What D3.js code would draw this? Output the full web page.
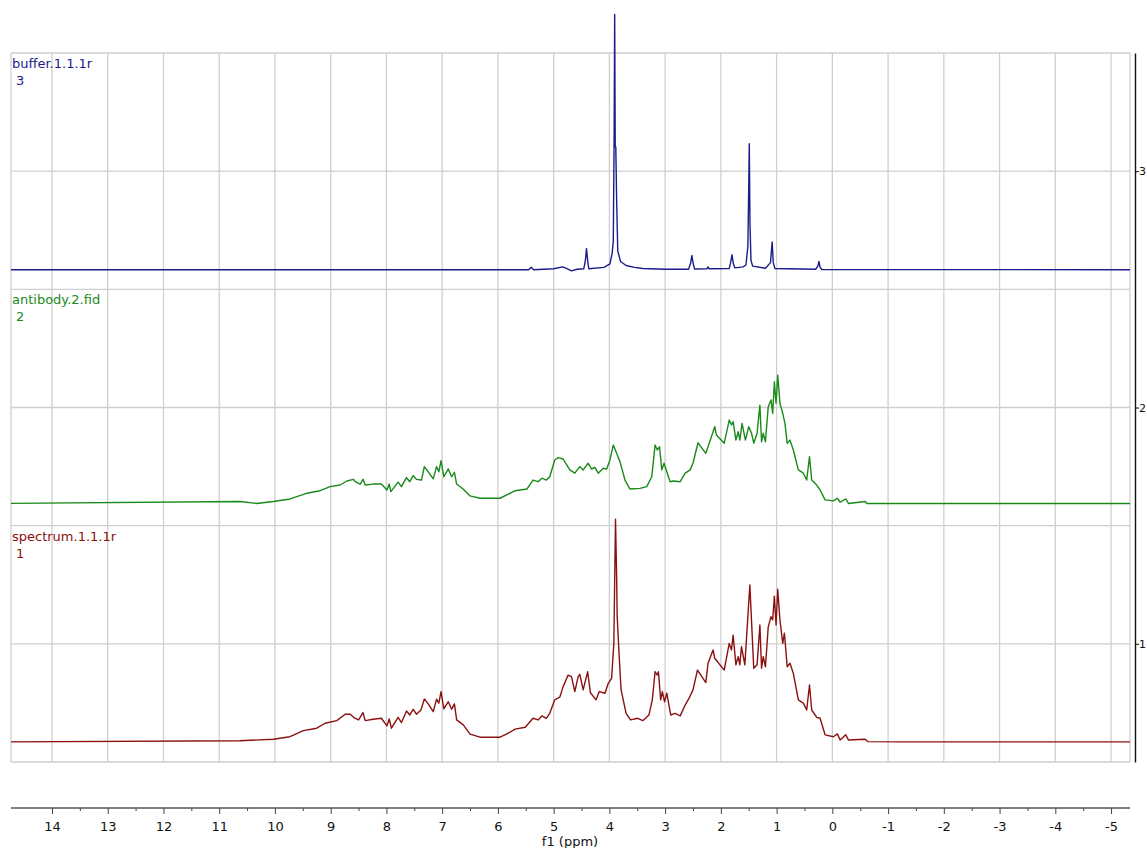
<!DOCTYPE html>
<html>
<head>
<meta charset="utf-8">
<script src="https://cdn.jsdelivr.net/npm/d3@7"></script>
<style>
  body { margin: 0; background: #fff; }
  svg { display: block; font-family: "DejaVu Sans", sans-serif; }
</style>
</head>
<body>
<svg id="chart"></svg>
<script>
// ppm ticks on the bottom axis and stack ticks on the right axis
const ppmTicks = [14, 13, 12, 11, 10, 9, 8, 7, 6, 5, 4, 3, 2, 1, 0, -1, -2, -3, -4, -5];
const stackTicks = [1, 2, 3];

// spectrum names, stack numbers and vertical offsets (in right-axis units)
const spectrumNames = ['buffer.1.1.1r', 'antibody.2.fid', 'spectrum.1.1.1r'];
const spectrumNumbers = ['3', '2', '1'];
const stackOffsets = [2.583, 1.594, 0.585];

// [ppm, intensity]
const bufferData = [
  [14.8, 0], [6.7, 0], [5.45, 0], [5.40, 0.01], [5.36, 0], [5.0, 0.004], [4.84, 0.012],
  [4.76, 0.005], [4.68, -0.005], [4.58, 0.002], [4.46, 0.004], [4.43, 0.04], [4.41, 0.089],
  [4.39, 0.04], [4.37, 0.004], [4.10, 0.01], [4.05, 0.016], [3.99, 0.025], [3.95, 0.07],
  [3.93, 0.12], [3.915, 0.55], [3.905, 1.08], [3.895, 0.52], [3.885, 0.52], [3.87, 0.3],
  [3.85, 0.08], [3.80, 0.035], [3.70, 0.018], [3.55, 0.01], [3.40, 0.005], [3.0, 0.002],
  [2.58, 0.002], [2.545, 0.025], [2.52, 0.06], [2.495, 0.025], [2.47, 0.003], [2.25, 0.004],
  [2.23, 0.012], [2.21, 0.004], [1.85, 0.005], [1.825, 0.03], [1.80, 0.063], [1.775, 0.025],
  [1.75, 0.008], [1.60, 0.012], [1.55, 0.02], [1.515, 0.1], [1.50, 0.35], [1.49, 0.533],
  [1.478, 0.2], [1.46, 0.04], [1.43, 0.015], [1.20, 0.006], [1.11, 0.03], [1.08, 0.117],
  [1.06, 0.03], [1.03, 0.005], [0.30, 0.002], [0.26, 0.015], [0.24, 0.035], [0.22, 0.01],
  [0.19, 0.001], [-5.4, 0]
];

const antibodyData = [
  [14.8, 0], [10.63, 0.008], [10.33, 0], [10.03, 0.008], [9.73, 0.019], [9.43, 0.043],
  [9.19, 0.054], [9.01, 0.071], [8.83, 0.078], [8.71, 0.095], [8.59, 0.102], [8.56, 0.092],
  [8.47, 0.082], [8.42, 0.102], [8.38, 0.078], [8.24, 0.082], [8.09, 0.082], [7.99, 0.057],
  [7.95, 0.082], [7.92, 0.050], [7.79, 0.090], [7.73, 0.071], [7.64, 0.109], [7.58, 0.092],
  [7.52, 0.118], [7.46, 0.102], [7.37, 0.099], [7.32, 0.156], [7.25, 0.134], [7.16, 0.104],
  [7.10, 0.156], [7.06, 0.134], [7.02, 0.181], [6.97, 0.113], [6.89, 0.146], [6.83, 0.113],
  [6.78, 0.132], [6.74, 0.082], [6.62, 0.060], [6.50, 0.032], [6.32, 0.022], [5.96, 0.022],
  [5.84, 0.036], [5.69, 0.054], [5.48, 0.061], [5.37, 0.099], [5.28, 0.092], [5.21, 0.107],
  [5.13, 0.099], [5.07, 0.113], [4.98, 0.184], [4.92, 0.194], [4.83, 0.188], [4.71, 0.142],
  [4.62, 0.128], [4.53, 0.156], [4.47, 0.142], [4.38, 0.170], [4.32, 0.145], [4.26, 0.153],
  [4.20, 0.128], [4.11, 0.149], [4.05, 0.145], [3.99, 0.184], [3.93, 0.247], [3.87, 0.212],
  [3.81, 0.177], [3.72, 0.099], [3.63, 0.061], [3.45, 0.064], [3.33, 0.071], [3.24, 0.113],
  [3.18, 0.247], [3.14, 0.226], [3.10, 0.240], [3.06, 0.142], [3.02, 0.170], [2.97, 0.134],
  [2.91, 0.092], [2.85, 0.095], [2.73, 0.092], [2.64, 0.128], [2.55, 0.142], [2.50, 0.170],
  [2.41, 0.257], [2.38, 0.247], [2.27, 0.212], [2.17, 0.282], [2.11, 0.325], [2.08, 0.290],
  [1.94, 0.255], [1.85, 0.353], [1.81, 0.332], [1.78, 0.346], [1.73, 0.268], [1.69, 0.304],
  [1.66, 0.268], [1.62, 0.339], [1.56, 0.268], [1.50, 0.325], [1.45, 0.297], [1.41, 0.255],
  [1.35, 0.297], [1.30, 0.416], [1.27, 0.261], [1.24, 0.297], [1.20, 0.261], [1.15, 0.409],
  [1.10, 0.438], [1.07, 0.381], [1.04, 0.515], [1.01, 0.424], [0.98, 0.543], [0.94, 0.424],
  [0.89, 0.381], [0.85, 0.339], [0.81, 0.255], [0.76, 0.268], [0.70, 0.226], [0.61, 0.142],
  [0.52, 0.128], [0.46, 0.099], [0.41, 0.198], [0.37, 0.099], [0.28, 0.078], [0.22, 0.057],
  [0.13, 0.015], [-0.02, 0.011], [-0.09, 0.022], [-0.14, 0.005], [-0.24, 0.019], [-0.29, 0],
  [-0.59, 0.008], [-0.62, 0], [-1.21, 0], [-5.4, 0]
];

const spectrumData = [
  [14.8, 0], [10.63, 0.005], [10.03, 0.011], [9.73, 0.022], [9.49, 0.048], [9.25, 0.058],
  [9.10, 0.079], [8.89, 0.090], [8.74, 0.117], [8.65, 0.117], [8.59, 0.104], [8.50, 0.093],
  [8.42, 0.124], [8.38, 0.090], [8.24, 0.096], [8.09, 0.100], [7.99, 0.068], [7.95, 0.097],
  [7.91, 0.058], [7.79, 0.104], [7.73, 0.082], [7.64, 0.131], [7.58, 0.114], [7.52, 0.138],
  [7.46, 0.117], [7.38, 0.135], [7.32, 0.182], [7.25, 0.161], [7.16, 0.128], [7.10, 0.181],
  [7.06, 0.164], [7.02, 0.213], [6.97, 0.140], [6.89, 0.170], [6.83, 0.138], [6.78, 0.161],
  [6.74, 0.093], [6.62, 0.072], [6.50, 0.033], [6.32, 0.020], [5.96, 0.020], [5.84, 0.034],
  [5.69, 0.054], [5.51, 0.062], [5.37, 0.100], [5.28, 0.093], [5.21, 0.110], [5.13, 0.100],
  [5.07, 0.121], [4.98, 0.178], [4.89, 0.189], [4.83, 0.234], [4.74, 0.283], [4.68, 0.276],
  [4.62, 0.213], [4.56, 0.276], [4.53, 0.286], [4.47, 0.220], [4.39, 0.297], [4.34, 0.208],
  [4.24, 0.178], [4.18, 0.213], [4.08, 0.206], [4.02, 0.248], [3.96, 0.269], [3.92, 0.417],
  [3.89, 0.942], [3.87, 0.699], [3.86, 0.530], [3.83, 0.389], [3.79, 0.220], [3.70, 0.121],
  [3.62, 0.093], [3.49, 0.100], [3.40, 0.090], [3.29, 0.114], [3.23, 0.178], [3.18, 0.297],
  [3.14, 0.283], [3.12, 0.297], [3.08, 0.178], [3.05, 0.213], [3.01, 0.170], [2.97, 0.206],
  [2.90, 0.114], [2.82, 0.121], [2.73, 0.110], [2.64, 0.156], [2.57, 0.185], [2.50, 0.220],
  [2.42, 0.304], [2.38, 0.290], [2.27, 0.251], [2.23, 0.333], [2.14, 0.389], [2.11, 0.354],
  [1.94, 0.304], [1.85, 0.417], [1.81, 0.389], [1.78, 0.452], [1.73, 0.326], [1.69, 0.361],
  [1.66, 0.326], [1.63, 0.403], [1.57, 0.326], [1.48, 0.664], [1.41, 0.312], [1.35, 0.326],
  [1.30, 0.495], [1.27, 0.312], [1.24, 0.361], [1.20, 0.318], [1.15, 0.487], [1.10, 0.530],
  [1.07, 0.516], [1.04, 0.617], [1.01, 0.495], [0.98, 0.646], [0.94, 0.516], [0.89, 0.417],
  [0.86, 0.460], [0.81, 0.318], [0.76, 0.333], [0.70, 0.290], [0.61, 0.178], [0.52, 0.164],
  [0.46, 0.135], [0.41, 0.241], [0.37, 0.135], [0.28, 0.104], [0.22, 0.100], [0.13, 0.030],
  [-0.02, 0.022], [-0.09, 0.034], [-0.14, 0.008], [-0.24, 0.030], [-0.29, 0.008],
  [-0.59, 0.011], [-0.64, 0.001], [-1.21, 0], [-5.4, 0]
];

const seriesData = [bufferData, antibodyData, spectrumData];
const seriesColors = ['#1b1b8a', '#198a19', '#8b1010'];

const width = 1147;
const height = 848;
const plot = { left: 11, right: 1130, top: 53, bottom: 762 };

const svg = d3.select('#chart')
  .attr('width', width)
  .attr('height', height);

const x = d3.scaleLinear().domain([14.735, -5.34]).range([plot.left, plot.right]);
const y = d3.scaleLinear().domain([0.5, 3.5]).range([plot.bottom, plot.top]);

// clip left/right only: the tallest peak pokes out above the frame
svg.append('defs').append('clipPath').attr('id', 'plotClip')
  .append('rect')
  .attr('x', plot.left).attr('y', 0)
  .attr('width', plot.right - plot.left).attr('height', plot.bottom);

// grid
const grid = svg.append('g').attr('stroke', '#cfcfcf').attr('stroke-width', 1.3);
grid.selectAll('line.v')
  .data(ppmTicks)
  .enter().append('line')
  .attr('class', 'v')
  .attr('x1', d => x(d)).attr('x2', d => x(d))
  .attr('y1', plot.top).attr('y2', plot.bottom);
grid.selectAll('line.h')
  .data(d3.range(0.5, 3.51, 0.5))
  .enter().append('line')
  .attr('class', 'h')
  .attr('x1', plot.left).attr('x2', plot.right)
  .attr('y1', d => y(d)).attr('y2', d => y(d));
grid.append('line')
  .attr('x1', plot.left).attr('x2', plot.left)
  .attr('y1', plot.top).attr('y2', plot.bottom);
grid.append('line')
  .attr('x1', plot.right).attr('x2', plot.right)
  .attr('y1', plot.top).attr('y2', plot.bottom);

// spectra
const traces = svg.append('g').attr('clip-path', 'url(#plotClip)');
seriesData.forEach((data, i) => {
  const line = d3.line()
    .x(d => x(d[0]))
    .y(d => y(d[1] + stackOffsets[i]));
  traces.append('path')
    .datum(data)
    .attr('d', line)
    .attr('fill', 'none')
    .attr('stroke', seriesColors[i])
    .attr('stroke-width', 1.4)
    .attr('stroke-linejoin', 'round');
});

// spectrum names in the top-left corner of each band
spectrumNames.forEach((name, i) => {
  const top = y(Math.round(stackOffsets[i]) + 0.5);
  const label = svg.append('text')
    .attr('fill', seriesColors[i])
    .attr('font-size', 13)
    .attr('x', plot.left + 1)
    .attr('y', top + 15);
  label.append('tspan').text(name);
  label.append('tspan')
    .attr('x', plot.left + 5)
    .attr('dy', 17)
    .text(spectrumNumbers[i]);
});

// bottom ppm axis
const axisY = 808;
svg.append('g')
  .attr('transform', `translate(0,${axisY})`)
  .call(d3.axisBottom(x).tickValues(ppmTicks.slice(0, -1).map(d => d - 0.5)).tickSize(3).tickFormat(''))
  .call(g => g.select('.domain').remove())
  .call(g => g.selectAll('line').attr('stroke', '#444'));
svg.append('g')
  .attr('transform', `translate(0,${axisY})`)
  .call(d3.axisBottom(x).tickValues(ppmTicks).tickSize(6).tickSizeOuter(0).tickPadding(8).tickFormat(d => String(d)))
  .call(g => g.select('.domain').attr('stroke', '#555').attr('stroke-width', 1.6)
    .attr('d', `M${plot.left},0H${plot.right}`))
  .call(g => g.selectAll('line').attr('stroke', '#444'))
  .call(g => g.selectAll('text').attr('font-size', 13).attr('fill', '#111')
    .attr('font-family', '"DejaVu Sans", sans-serif'));

svg.append('text')
  .attr('x', 570)
  .attr('y', 846)
  .attr('text-anchor', 'middle')
  .attr('font-size', 13)
  .attr('fill', '#111')
  .text('f1 (ppm)');

// right stack axis (labels squeezed to fit the window edge)
svg.append('g')
  .attr('transform', `translate(1135,0)`)
  .call(d3.axisRight(y).tickValues(stackTicks).tickSize(4).tickSizeOuter(0).tickPadding(0).tickFormat(d => String(d)))
  .call(g => g.select('.domain').attr('stroke', '#111').attr('stroke-width', 1.4))
  .call(g => g.selectAll('line').attr('stroke', '#111'))
  .call(g => g.selectAll('text').attr('font-size', 11).attr('fill', '#111')
    .attr('font-family', '"DejaVu Sans", sans-serif'));
</script>
</body>
</html>
